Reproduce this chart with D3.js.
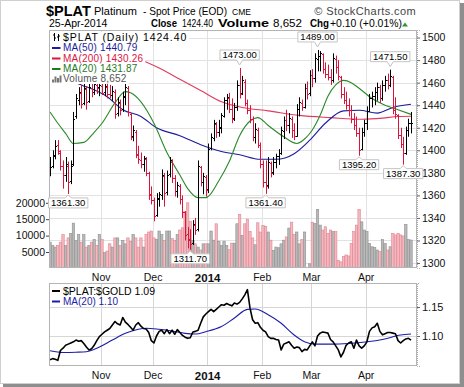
<!DOCTYPE html>
<html><head><meta charset="utf-8">
<script src="https://cdn.jsdelivr.net/npm/d3@7"></script>
<style>body{margin:0;background:#fff}svg{display:block}text{font-family:"Liberation Sans",Arial,sans-serif}</style>
</head><body><svg id="c" width="464" height="387"></svg>
<script>
// ---------- data ----------
const monthLabels = ["Nov","Dec","2014","Feb","Mar","Apr"];
const monthStartIdx = [20,40,61,82,101,122];
const priceTicks = [1300,1320,1340,1360,1380,1400,1420,1440,1460,1480,1500];
const volumeTicks = [5000,10000,15000,20000];
const ratioTicks = [1.10,1.15];

const opens = [1388,1386,1396,1405,1398,1386,1378,1386,1373,1388,1430,1445,1451,1442,1454,1444,1455,1452,1458,1456,1457,1452,1456,1450,1449,1452,1433,1442,1437,1447,1455,1432,1413,1416,1397,1391,1388,1392,1380,1361,1356,1343,1357,1360,1377,1363,1379,1390,1375,1364,1368,1357,1345,1326,1320,1318,1334,1330,1385,1372,1376,1366,1402,1411,1423,1416,1420,1430,1445,1446,1437,1429,1438,1458,1451,1461,1442,1436,1428,1412,1418,1405,1388,1372,1369,1389,1381,1390,1395,1398,1417,1427,1422,1428,1418,1413,1437,1442,1438,1455,1451,1467,1464,1481,1484,1485,1472,1468,1465,1462,1481,1474,1465,1450,1445,1440,1436,1428,1422,1415,1401,1416,1424,1435,1446,1448,1452,1456,1446,1458,1462,1458,1465,1436,1431,1414,1406,1398,1418,1424];
const highs = [1394,1400,1409,1409,1400,1391,1394,1390,1391,1434,1450,1456,1458,1460,1457,1460,1461,1462,1462,1461,1462,1461,1460,1458,1457,1454,1447,1445,1452,1460,1457,1433,1422,1418,1404,1398,1395,1394,1381,1368,1358,1362,1363,1383,1380,1382,1394,1392,1378,1372,1370,1360,1346,1332,1330,1338,1340,1391,1386,1380,1378,1406,1415,1427,1425,1427,1433,1447,1450,1451,1446,1442,1462,1473,1466,1463,1445,1440,1430,1424,1420,1407,1391,1391,1394,1390,1394,1397,1401,1421,1430,1436,1433,1430,1424,1441,1447,1445,1459,1461,1471,1472,1486,1489,1488,1486,1478,1476,1472,1486,1484,1480,1466,1456,1452,1446,1440,1433,1430,1420,1420,1427,1439,1450,1452,1456,1460,1458,1462,1466,1468,1471.5,1466,1447,1432,1420,1412,1421,1428,1434];
const lows = [1377,1384,1392,1396,1382,1366,1372,1361.3,1370,1386,1428,1440,1437,1440,1436,1442,1447,1449,1450,1448,1449,1448,1446,1446,1444,1428,1430,1431,1434,1440,1430,1409,1408,1393,1388,1384,1381,1377,1356,1352,1337,1341,1350,1356,1350,1360,1376,1371,1359,1358,1352,1340,1320,1313,1311.7,1316,1325,1328,1368,1361,1359,1362,1400,1408,1411,1412,1415,1429,1436,1433,1424,1426,1435,1446,1449,1439,1432,1424,1408,1406,1402,1384,1367,1361.4,1366,1376,1378,1384,1387,1396,1410,1417,1415,1411,1409,1412,1430,1435,1437,1445,1448,1456,1460,1470,1470,1468,1464,1462,1458,1460,1468,1462,1446,1441,1436,1430,1424,1418,1412,1395.2,1400,1412,1418,1434,1438,1440,1444,1442,1444,1452,1454,1456,1432,1428,1410,1402,1387.3,1396,1412,1415];
const closes = [1385,1395,1404,1399,1386,1378,1388,1372,1386,1428,1446,1452,1441,1455,1443,1456,1452,1459,1455,1458,1451,1457,1450,1449,1453,1432,1443,1436,1448,1456,1434,1412,1418,1396,1392,1388,1393,1380,1360,1356,1342,1358,1361,1378,1362,1378,1391,1375,1364,1369,1357,1345,1325,1321,1317,1335,1329,1386,1372,1377,1365,1401,1412,1424,1416,1421,1431,1445,1447,1437,1428,1438,1458,1450,1462,1442,1436,1428,1412,1419,1405,1388,1372,1368,1390,1380,1390,1395,1398,1418,1427,1422,1429,1418,1413,1437,1443,1438,1455,1450,1467,1464,1482,1484,1486,1472,1468,1465,1462,1482,1474,1466,1450,1445,1440,1436,1428,1422,1415,1400,1416,1424,1435,1446,1448,1452,1456,1446,1458,1462,1458,1466,1436,1432,1414,1406,1398,1418,1424.3,1424.4];
const volumes = [8000,7000,6500,7000,8000,10300,7000,9300,10600,13800,8500,10300,8000,10300,6500,7000,8000,8800,7000,10300,8800,4800,5300,7500,6500,9300,9300,7000,8500,7500,
9300,8200,10300,9300,6500,9300,6500,10300,11100,11400,9300,8800,11400,10300,8500,11400,11400,9100,8500,10300,11700,12400,17400,20000,14300,8500,7500,6500,5600,7500,
7500,7500,11400,8600,13600,8300,7000,8300,7000,5700,7700,7700,13600,16500,10100,13600,15000,11300,9300,7200,13900,11100,13100,12800,11100,8600,5500,6500,6300,7500,8600,9600,12300,14100,10400,11100,7500,8800,11100,300,1400,14100,
13700,18000,13200,11700,12700,10700,11700,11200,11200,2500,2000,3600,4100,3800,7600,11200,13200,18000,14200,11700,11200,7600,6600,6400,5600,5100,8800,7600,5600,6600,10700,10200,10700,10200,9900,13400,8800,8652];

const ma50Idx = [0,6,12,22,28,35,41,50,58,66,73,81,87,94,100,106,113,119,126,132,139];
const ma50Val = [1466,1463,1458,1447.5,1436,1430,1420,1413,1405,1399,1396,1392,1392,1397,1409,1424,1435,1435.5,1433,1438,1440.79];
const ma200Idx = [30,34,42,50,58,66,74,84,96,108,120,128,134,139];
const ma200Val = [1484,1481,1473,1463,1453,1443,1438,1435,1431,1429,1427.5,1428.5,1430,1430.26];
const ma20Idx = [0,3,6,9,13,17,20,25,29,31,35,40,45,50,53,57,60,65,69,73,77,80,84,90,95,98,101,104,107,110,113,116,119,124,129,134,139];
const ma20Val = [1434,1424,1415,1406,1407,1416,1424,1442,1452,1451,1443,1424,1398,1378,1366,1358,1358,1373,1390,1413,1426,1429,1422,1412,1406,1410,1418,1431,1448,1458,1462,1460,1455,1446,1440,1436,1431.87];

const ratio = [1.059,1.061,1.060,1.058,1.075,1.079,1.084,1.086,1.088,1.090,1.093,1.091,1.092,1.087,1.081,1.076,1.078,1.084,1.092,1.099,1.103,1.107,1.110,1.113,1.119,1.125,1.121,1.119,1.132,1.124,1.120,1.115,1.110,1.119,1.123,1.117,1.113,1.112,1.106,1.092,1.088,1.100,1.108,1.110,1.104,1.111,1.104,1.110,1.103,1.111,1.106,1.101,1.098,1.096,1.097,1.107,1.108,1.110,1.122,1.133,1.138,1.142,1.146,1.142,1.146,1.150,1.154,1.153,1.156,1.154,1.152,1.157,1.155,1.158,1.164,1.171,1.180,1.148,1.128,1.122,1.123,1.115,1.110,1.107,1.099,1.096,1.096,1.094,1.093,1.076,1.086,1.088,1.090,1.084,1.079,1.081,1.080,1.073,1.077,1.076,1.083,1.090,1.083,1.100,1.105,1.107,1.106,1.105,1.094,1.090,1.083,1.076,1.064,1.072,1.084,1.088,1.090,1.079,1.093,1.083,1.079,1.083,1.090,1.108,1.114,1.116,1.122,1.108,1.102,1.104,1.106,1.106,1.105,1.104,1.092,1.088,1.092,1.095,1.096,1.093];
const ratioMaIdx = [0,5,10,14,17,19,24,29,34,37,42,47,52,56,60,66,71,76,79,84,89,94,98,102,109,115,122,128,135,139];
const ratioMaVal = [1.0745,1.0715,1.072,1.073,1.077,1.081,1.093,1.1046,1.1116,1.1134,1.1116,1.1087,1.1046,1.1035,1.1075,1.1163,1.131,1.146,1.1465,1.1366,1.122,1.1017,1.090,1.086,1.086,1.0872,1.090,1.094,1.1017,1.1035];

const highLabels = [{i:73,v:1473.00,t:"1473.00"},{i:103,v:1489.00,t:"1489.00"},{i:131,v:1471.50,t:"1471.50"}];
const lowLabels = [{i:7,v:1361.30,t:"1361.30"},{i:54,v:1311.70,t:"1311.70"},{i:83,v:1361.40,t:"1361.40"},{i:119,v:1395.20,t:"1395.20"},{i:136,v:1387.30,t:"1387.30"}];

// ---------- layout ----------
const svg = d3.select("#c");
const L = 49, R = 417, T1 = 30, B1 = 268, T2 = 283, B2 = 366;
const x = d3.scaleLinear().domain([-0.4, 141.3]).range([L, R]);
const yP = d3.scaleLinear().domain([1295.6, 1506.7]).range([B1, T1]);
const yV = d3.scaleLinear().domain([0, 20000]).range([268.4, 202.8]);
const yR = d3.scaleLinear().domain([1.0483, 1.1914]).range([B2, T2]);
const RED = "#dc143c", GRID = "#e2e2e2";

// frame + shadow
svg.append("rect").attr("x",0).attr("y",0).attr("width",464).attr("height",387).attr("fill","#fff");
svg.append("rect").attr("x",460).attr("y",3).attr("width",4).attr("height",384).attr("fill","#8e8e8e");
svg.append("rect").attr("x",3).attr("y",384).attr("width",461).attr("height",3).attr("fill","#8e8e8e");
svg.append("rect").attr("x",0.5).attr("y",0.5).attr("width",459).attr("height",383).attr("fill","#fff").attr("stroke","#cfcfcf");

// header
const h = svg.append("g");
h.append("text").attr("x",46).attr("y",15.5).attr("font-size",14.5).attr("font-weight","bold").text("$PLAT");
h.append("text").attr("x",94).attr("y",15).attr("font-size",11).text("Platinum");
h.append("text").attr("x",143).attr("y",15).attr("font-size",10.2).attr("textLength",84).attr("lengthAdjust","spacingAndGlyphs").text("- Spot Price (EOD)");
h.append("text").attr("x",232).attr("y",15).attr("font-size",8.5).text("CME");
h.append("text").attr("x",416).attr("y",15).attr("font-size",11).attr("text-anchor","end").attr("fill","#444").attr("letter-spacing",0.4).text("\u00A9 StockCharts.com");
h.append("text").attr("x",49).attr("y",27).attr("font-size",10.5).text("25-Apr-2014");
const hl = [["Close",151,26,true],["1424.40",182,31,false],["Volume",218,51,true],["8,652",273,29,false],["Chg",310,19,true],["+0.10 (+0.01%)",330,72,false]];
hl.forEach(d=>h.append("text").attr("x",d[1]).attr("y",27).attr("font-size",d[3]?11:10.5)
  .attr("font-weight",d[3]?"bold":"normal").attr("textLength",d[2]).attr("lengthAdjust","spacingAndGlyphs").text(d[0]));
h.append("path").attr("d","M402,26.5 L405,22.5 L408,26.5 Z").attr("fill","#2a9a2a");

// clip paths
const defs = svg.append("defs");
defs.append("clipPath").attr("id","c1").append("rect").attr("x",L).attr("y",T1).attr("width",R-L).attr("height",B1-T1);
defs.append("clipPath").attr("id","c2").append("rect").attr("x",L).attr("y",T2).attr("width",R-L).attr("height",B2-T2);

// ---------- main panel ----------
const g1 = svg.append("g");
g1.append("rect").attr("x",L).attr("y",T1).attr("width",R-L).attr("height",B1-T1).attr("fill","#fff");
const gg = g1.append("g").attr("clip-path","url(#c1)");
gg.selectAll(".hg").data(priceTicks).enter().append("line")
  .attr("x1",L).attr("x2",R).attr("y1",d=>Math.round(yP(d))+0.5).attr("y2",d=>Math.round(yP(d))+0.5).attr("stroke",GRID);
gg.selectAll(".vg").data(monthStartIdx).enter().append("line")
  .attr("y1",T1).attr("y2",B1).attr("x1",d=>Math.round(x(d-0.5))+0.5).attr("x2",d=>Math.round(x(d-0.5))+0.5).attr("stroke",GRID);

const down = i => i>0 && closes[i] < closes[i-1];
// volume
gg.selectAll(".vb").data(volumes).enter().append("rect")
  .attr("x",(d,i)=>x(i)-1.2).attr("width",2.4)
  .attr("y",d=>yV(d)).attr("height",d=>yV(0)-yV(d))
  .attr("fill",(d,i)=>down(i)?"#f3b9bf":"#b9b9b9")
  .attr("stroke",(d,i)=>down(i)?"#e08490":"#8f8f8f").attr("stroke-width",0.6);

// moving averages
const lineMA = (idx,val,color)=>{
  gg.append("path").datum(idx.map((d,k)=>[d,val[k]]))
    .attr("d",d3.line().x(d=>x(d[0])).y(d=>yP(d[1])).curve(d3.curveMonotoneX))
    .attr("fill","none").attr("stroke",color).attr("stroke-width",1.1);
};
lineMA(ma200Idx,ma200Val,"#e23a5c");
lineMA(ma50Idx,ma50Val,"#1c1c9c");
lineMA(ma20Idx,ma20Val,"#2a8a2a");

// OHLC bars
const bars = gg.append("g").attr("stroke-width",1);
closes.forEach((c,i)=>{
  const cx = Math.round(x(i))+0.5, col = down(i)?RED:"#000";
  bars.append("line").attr("x1",cx).attr("x2",cx).attr("y1",yP(highs[i])).attr("y2",yP(lows[i])).attr("stroke",col);
  bars.append("line").attr("x1",cx-1.5).attr("x2",cx).attr("y1",Math.round(yP(opens[i]))+0.5).attr("y2",Math.round(yP(opens[i]))+0.5).attr("stroke",col);
  bars.append("line").attr("x1",cx).attr("x2",cx+1.5).attr("y1",Math.round(yP(c))+0.5).attr("y2",Math.round(yP(c))+0.5).attr("stroke",col);
});

g1.append("rect").attr("x",L+0.5).attr("y",T1+0.5).attr("width",R-L-1).attr("height",B1-T1-1).attr("fill","none").attr("stroke","#b4b4b4");

// right price axis
const ax1 = svg.append("g").attr("transform",`translate(${R},0)`)
  .call(d3.axisRight(yP).tickValues(priceTicks).tickSize(3).tickPadding(2).tickFormat(d3.format("d")));
ax1.select(".domain").attr("stroke","#aaa").attr("stroke-dasharray","1,1");
ax1.selectAll("line").attr("stroke","#666");
ax1.selectAll("text").attr("font-size",10.5).attr("font-family","Liberation Sans, Arial, sans-serif").attr("fill","#111");
// left volume axis
const ax2 = svg.append("g").attr("transform",`translate(${L},0)`)
  .call(d3.axisLeft(yV).tickValues(volumeTicks).tickSize(3).tickPadding(1).tickFormat(d3.format("d")));
ax2.select(".domain").remove();
ax2.selectAll("line").attr("stroke","#444");
ax2.selectAll("text").attr("font-size",10.5).attr("font-family","Liberation Sans, Arial, sans-serif").attr("fill","#111");

// annotation boxes
function tag(cx, yA, text, above){
  const t = svg.append("text").attr("font-size",9.5).attr("text-anchor","middle").attr("x",cx).text(text);
  const w = t.node().getComputedTextLength()+5, hgt = 10;
  let y0, y1, ap;
  if(above){ y1 = yA-8; y0 = y1-hgt; ap = yA-3; }
  else { y0 = yA+4; y1 = y0+hgt; ap = yA+1; }
  const x0 = cx-w/2, x1 = cx+w/2;
  const p = above
    ? `M${x0},${y0}H${x1}V${y1}H${cx+3}L${cx},${ap}L${cx-3},${y1}H${x0}Z`
    : `M${x0},${y0}H${cx-3}L${cx},${ap}L${cx+3},${y0}H${x1}V${y1}H${x0}Z`;
  svg.insert("path", () => t.node()).attr("d",p).attr("fill","#fff").attr("stroke","#c4c4c4");
  t.attr("y",(y0+y1)/2+3.3);
}
highLabels.forEach(d=>tag(x(d.i),yP(d.v),d.t,true));
lowLabels.forEach(d=>tag(x(d.i),yP(d.v),d.t,false));

// legend
const lg = svg.append("g");
function legendRow(y, text, color, font, size, icon, extra){
  const t = lg.append("text").attr("x",63).attr("y",y+3.5).attr("font-size",size).attr("fill",color).attr("font-family",font).text(text);
  if(extra) t.attr("letter-spacing",extra);
  const w = t.node().getComputedTextLength();
  lg.insert("rect",()=>t.node()).attr("x",50).attr("y",y-5).attr("width",w+15).attr("height",10.5).attr("fill","#fff");
  icon(y);
}
legendRow(37,"$PLAT (Daily) 1424.40","#000","DejaVu Sans",10.5,y=>{
  lg.append("path").attr("d",`M54.5,${y-4}V${y+4}M53,${y-2}H54.5M54.5,${y+1}H56M58.5,${y-3}V${y+4}M57,${y}H58.5M58.5,${y-1}H60`).attr("stroke","#000").attr("fill","none");
}, 0.9);
[[47.5,"MA(50) 1440.79","#1c1c9c"],[58,"MA(200) 1430.26","#dc143c"],[68.5,"MA(20) 1431.87","#1f7a1f"]].forEach(r=>{
  legendRow(r[0],r[1],r[2],"Liberation Sans",10,y=>{
    lg.append("line").attr("x1",52).attr("x2",60.5).attr("y1",y+0.5).attr("y2",y+0.5).attr("stroke",r[2]).attr("stroke-width",2);
  }, 0.2);
});
legendRow(78.5,"Volume 8,652","#555","Liberation Sans",10,y=>{
  [[52,3],[54.5,6],[57,4.5],[59.5,7]].forEach(b=>lg.append("rect").attr("x",b[0]).attr("y",y+4-b[1]).attr("width",2).attr("height",b[1]).attr("fill","#777"));
}, 0.2);

// month labels (top and bottom of ratio panel)
function monthAxis(y){
  const a = svg.append("g").attr("transform",`translate(0,${y})`)
    .call(d3.axisBottom(x).tickValues(monthStartIdx.map(d=>d-0.5)).tickSize(0).tickPadding(0).tickFormat((d,k)=>monthLabels[k]));
  a.select(".domain").remove();
  a.selectAll("text").attr("font-size",(d,k)=>monthLabels[k]==="2014"?11.5:10.5)
    .attr("font-weight",(d,k)=>monthLabels[k]==="2014"?"bold":"normal")
    .attr("font-family","Liberation Sans, Arial, sans-serif").attr("fill","#111").attr("dy","0.35em").attr("y",0);
}
monthAxis(277.5);
monthAxis(375.5);

// ---------- ratio panel ----------
const g2 = svg.append("g");
const gc = g2.append("g").attr("clip-path","url(#c2)");
gc.selectAll(".hg").data(ratioTicks).enter().append("line")
  .attr("x1",L).attr("x2",R).attr("y1",d=>Math.round(yR(d))+0.5).attr("y2",d=>Math.round(yR(d))+0.5).attr("stroke","#d6d6d6");
gc.selectAll(".vg").data(monthStartIdx).enter().append("line")
  .attr("y1",T2).attr("y2",B2).attr("x1",d=>Math.round(x(d-0.5))+0.5).attr("x2",d=>Math.round(x(d-0.5))+0.5).attr("stroke","#d6d6d6");
gc.append("path").datum(ratioMaIdx.map((d,k)=>[d,ratioMaVal[k]]))
  .attr("d",d3.line().x(d=>x(d[0])).y(d=>yR(d[1])).curve(d3.curveMonotoneX))
  .attr("fill","none").attr("stroke","#1c1ca8").attr("stroke-width",1.1);
gc.append("path").datum(ratio)
  .attr("d",d3.line().x((d,i)=>x(i)).y(d=>yR(d)))
  .attr("fill","none").attr("stroke","#000").attr("stroke-width",1.6).attr("stroke-linejoin","round");
g2.append("rect").attr("x",L+0.5).attr("y",T2+0.5).attr("width",R-L-1).attr("height",B2-T2-1).attr("fill","none").attr("stroke","#b4b4b4");
const ax3 = svg.append("g").attr("transform",`translate(${R},0)`)
  .call(d3.axisRight(yR).tickValues(ratioTicks).tickSize(3).tickPadding(2).tickFormat(d3.format(".2f")));
ax3.select(".domain").attr("stroke","#aaa").attr("stroke-dasharray","1,1");
ax3.selectAll("line").attr("stroke","#666");
ax3.selectAll("text").attr("font-size",11).attr("font-family","Liberation Sans, Arial, sans-serif").attr("fill","#111");

// ratio legend
svg.append("line").attr("x1",52).attr("x2",60).attr("y1",291).attr("y2",291).attr("stroke","#000").attr("stroke-width",2);
svg.append("text").attr("x",63).attr("y",294.8).attr("font-size",10.5).attr("font-family","DejaVu Sans").text("$PLAT:$GOLD 1.09");
svg.append("line").attr("x1",52).attr("x2",60).attr("y1",301.5).attr("y2",301.5).attr("stroke","#1c1ca8").attr("stroke-width",2);
svg.append("text").attr("x",63).attr("y",305).attr("font-size",10).attr("fill","#1c1ca8").text("MA(20) 1.10");
</script></body></html>
